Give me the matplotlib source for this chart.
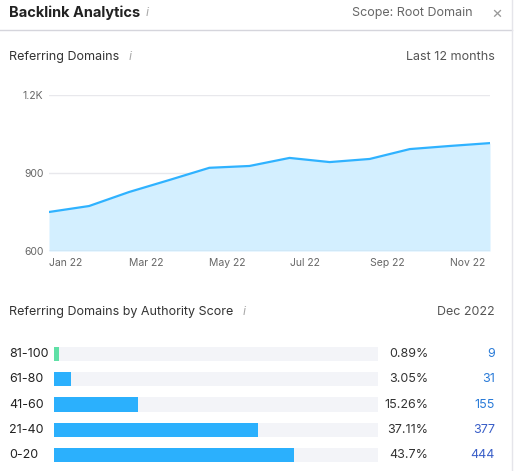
import matplotlib.pyplot as plt

plt.rcParams['font.family'] = ['Inter', 'DejaVu Sans']

months = ["Jan 22", "Feb 22", "Mar 22", "Apr 22", "May 22", "Jun 22",
          "Jul 22", "Aug 22", "Sep 22", "Oct 22", "Nov 22", "Dec 22"]
domains = [750, 773, 827, 873, 920, 927, 958, 942, 954, 992, 1004, 1015]

score_bins = ["81-100", "61-80", "41-60", "21-40", "0-20"]
percents = ["0.89%", "3.05%", "15.26%", "37.11%", "43.7%"]
counts = [9, 31, 155, 377, 444]

W, H = 515, 471
fig = plt.figure(figsize=(W / 100, H / 100), dpi=100)

def fx(px):
    return px / W

def fy(py):
    return 1 - py / H

# header
fig.text(fx(9), fy(13), "Backlink Analytics", fontsize=10.5, fontweight='bold', color='#222', va='center')
fig.text(fx(146), fy(13), "i", fontsize=9, color='#aaa', va='center', style='italic')
fig.text(fx(473), fy(13), "Scope: Root Domain", fontsize=9, color='#666', va='center', ha='right')
fig.text(fx(497), fy(13), "×", fontsize=12, color='#999', va='center', ha='center')
fig.add_artist(plt.Line2D([0, fx(512)], [fy(30), fy(30)], color='#d5d5dc', lw=1))
fig.add_artist(plt.Line2D([fx(512), fx(512)], [0, 1], color='#e5e5ea', lw=1))

fig.text(fx(9), fy(57), "Referring Domains", fontsize=9, color='#333', va='center')
fig.text(fx(129), fy(57), "i", fontsize=9, color='#aaa', va='center', style='italic')
fig.text(fx(495), fy(57), "Last 12 months", fontsize=9, color='#555', va='center', ha='right')

# line chart
ax = fig.add_axes([fx(49), fy(251), fx(490) - fx(49), fy(95) - fy(251)])
x = list(range(len(months)))
ax.fill_between(x, domains, 600, color='#d3efff', lw=0)
ax.plot(x, domains, color='#2fb2ff', lw=1.6)
ax.set_xlim(0, len(months) - 1)
ax.set_ylim(600, 1200)
ax.set_yticks([600, 900, 1200])
ax.set_yticklabels(["600", "900", "1.2K"])
ax.grid(axis='y', color='#e8e8ec', lw=1)
ax.set_axisbelow(True)
for s in ax.spines.values():
    s.set_visible(False)
ax.axhline(600, color='#c8d0d8', lw=1)
ax.tick_params(axis='y', length=0, labelsize=7.5, labelcolor='#666', pad=4)
ax.set_xticks(x[::2])
ax.set_xticklabels(months[::2], ha='left')
ax.tick_params(axis='x', length=0, labelsize=7.5, labelcolor='#666', pad=5)

# authority score section
fig.text(fx(9), fy(312), "Referring Domains by Authority Score", fontsize=9, color='#333', va='center')
fig.text(fx(243), fy(312), "i", fontsize=9, color='#aaa', va='center', style='italic')
fig.text(fx(495), fy(312), "Dec 2022", fontsize=9, color='#555', va='center', ha='right')

bx = fig.add_axes([fx(54), fy(467.6), fx(378) - fx(54), fy(341.4) - fy(467.6)])
bx.set_xlim(0, 600)
bx.set_ylim(len(score_bins) - 0.5, -0.5)
bx.axis('off')
for i, c in enumerate(counts):
    bx.barh(i, 600, height=0.56, color='#f3f4f8')
    bx.barh(i, c, height=0.56, color='#5fe0a6' if i == 0 else '#2bb0fd')
    yy = fy(341.4 + 25.25 * (i + 0.5))
    fig.text(fx(9), yy, score_bins[i], ha='left', va='center', fontsize=9, color='#222')
    fig.text(fx(428), yy, percents[i], ha='right', va='center', fontsize=9, color='#333')
    fig.text(fx(495), yy, str(c), ha='right', va='center', fontsize=9,
             color='#3a5fc8' if c > 300 else '#2a7bd8')

fig.savefig("out.png", dpi=100, facecolor='white')
